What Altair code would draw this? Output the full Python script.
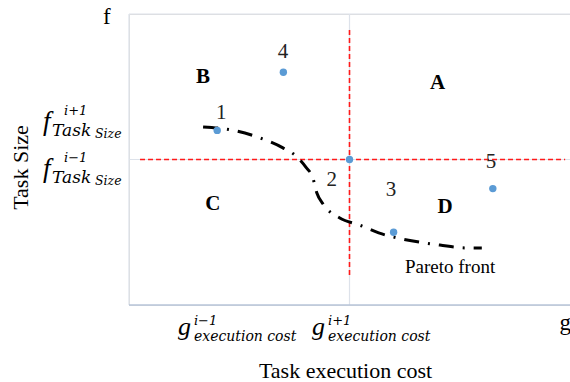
import altair as alt
import pandas as pd

# ---- data (axes run 0..10 in both directions) ----
point_ids = ["1", "2", "3", "4", "5"]
point_x = [2.0, 5.0, 6.0, 3.5, 8.25]
point_y = [6.0, 5.0, 2.5, 8.0, 4.0]
point_label_x = [2.09, 4.60, 5.94, 3.49, 8.21]
point_label_y = [6.60, 4.30, 3.95, 8.69, 4.91]

pareto_x = [1.68, 2.34, 2.97, 3.49, 3.81, 4.01, 4.17, 4.26, 4.40, 4.78, 5.22, 5.80, 6.10, 6.71, 7.05, 7.69, 8.00]
pareto_y = [6.12, 6.01, 5.74, 5.40, 5.09, 4.74, 4.36, 3.85, 3.47, 2.99, 2.75, 2.41, 2.30, 2.13, 2.06, 1.96, 1.96]

region_names = ["A", "B", "C", "D"]
region_x = [7.0, 1.68, 1.9, 7.17]
region_y = [7.63, 7.84, 3.47, 3.37]

threshold_x = 5.0
threshold_y = 5.0
vline_y = [1.03, 9.45]
hline_x = [0.25, 9.89]

ylab_sup = ["i+1", "i\u22121"]
ylab_y = [6.29, 4.67]
xlab_sup = ["i\u22121", "i+1"]
xlab_x = [1.11, 4.15]
xlab_y = -0.756

pareto_text = "Pareto front"
pareto_text_x = 7.28
pareto_text_y = 1.31

end_labels = ["f", "g"]
end_x = [-0.5, 9.89]
end_y = [9.9, -0.62]

# ---- scales ----
xs = alt.Scale(domain=[0, 10], nice=False, zero=False)
ys = alt.Scale(domain=[0, 10], nice=False, zero=False)
xaxis = alt.Axis(domain=False, ticks=False, labels=False, grid=False,
                 title="Task execution cost", titleFont="Liberation Serif",
                 titleFontSize=22, titleFontWeight="normal", titleColor="#000000",
                 titleX=216, titleY=65, titleAlign="center", titleBaseline="middle")
yaxis = alt.Axis(domain=False, ticks=False, labels=False, grid=False,
                 title="Task Size", titleFont="Liberation Serif",
                 titleFontSize=22, titleFontWeight="normal", titleColor="#000000",
                 titleX=-109, titleY=153, titleAngle=270, titleAlign="center",
                 titleBaseline="middle")


def X(f):
    return alt.X(f"{f}:Q", scale=xs, axis=xaxis)


def Y(f):
    return alt.Y(f"{f}:Q", scale=ys, axis=yaxis)


points = pd.DataFrame({"id": point_ids, "x": point_x, "y": point_y,
                       "lx": point_label_x, "ly": point_label_y})
pareto = pd.DataFrame({"x": pareto_x, "y": pareto_y, "o": list(range(len(pareto_x)))})
regions = pd.DataFrame({"t": region_names, "x": region_x, "y": region_y})
ylabs = pd.DataFrame({"sup": ylab_sup, "y": ylab_y, "x": [0.0, 0.0]})
xlabs = pd.DataFrame({"sup": xlab_sup, "x": xlab_x, "y": [xlab_y, xlab_y]})
ends = pd.DataFrame({"t": end_labels, "x": end_x, "y": end_y})

frame_light = pd.DataFrame({"x": [0, 0, threshold_x, 0], "x2": [10, 0, threshold_x, 10],
                            "y": [10, 0, 0, threshold_y], "y2": [10, 10, 10, threshold_y]})
frame_bottom = pd.DataFrame({"x": [0], "x2": [10], "y": [0], "y2": [0]})
red_lines = pd.DataFrame({"x": [threshold_x, hline_x[0]], "x2": [threshold_x, hline_x[1]],
                          "y": [vline_y[0], threshold_y], "y2": [vline_y[1], threshold_y]})

grid = alt.Chart(frame_light).mark_rule(color="#dde2ea", strokeWidth=1.2).encode(
    x=X("x"), x2="x2", y=Y("y"), y2="y2")
bottom = alt.Chart(frame_bottom).mark_rule(color="#b7c4d8", strokeWidth=1.5).encode(
    x=X("x"), x2="x2", y=Y("y"), y2="y2")
red = alt.Chart(red_lines).mark_rule(color="#ff1a1a", strokeWidth=1.6, strokeDash=[5, 3]).encode(
    x=X("x"), x2="x2", y=Y("y"), y2="y2")

front = alt.Chart(pareto).mark_line(color="#000000", strokeWidth=3, strokeDash=[15, 9, 2, 9],
                                    interpolate="monotone", strokeCap="butt").encode(
    x=X("x"), y=Y("y"), order="o:Q")

dots = alt.Chart(points).mark_circle(color="#5b9bd5", opacity=1, size=55).encode(
    x=X("x"), y=Y("y"))
nums = alt.Chart(points).mark_text(font="Liberation Serif", fontSize=21, color="#222222",
                                   baseline="middle", align="center").encode(
    x=X("lx"), y=Y("ly"), text="id:N")

letters = alt.Chart(regions).mark_text(font="Liberation Serif", fontSize=21, fontWeight="bold",
                                       color="#000000", baseline="middle", align="center").encode(
    x=X("x"), y=Y("y"), text="t:N")

ptext = alt.Chart(pd.DataFrame({"t": [pareto_text], "x": [pareto_text_x], "y": [pareto_text_y]})).mark_text(
    font="Liberation Serif", fontSize=19, color="#000000", baseline="middle", align="center").encode(
    x=X("x"), y=Y("y"), text="t:N")

endtext = alt.Chart(ends).mark_text(font="Liberation Serif", fontSize=23, color="#000000",
                                    baseline="middle", align="center").encode(
    x=X("x"), y=Y("y"), text="t:N")

# y-side math labels  f^{sup}_{Task_{Size}}
yf = alt.Chart(ylabs).mark_text(text="f", font="Liberation Serif", fontStyle="italic", fontSize=27,
                                align="left", baseline="middle", dx=-86, color="#000000").encode(
    x=X("x"), y=Y("y"))
ysup = alt.Chart(ylabs).mark_text(font="DejaVu Serif", fontStyle="italic", fontSize=13,
                                  align="left", baseline="middle", dx=-65, dy=-11, color="#000000").encode(
    x=X("x"), y=Y("y"), text="sup:N")
ytask = alt.Chart(ylabs).mark_text(text="Task", font="DejaVu Serif", fontStyle="italic", fontSize=17,
                                   align="left", baseline="middle", dx=-77, dy=9, color="#000000").encode(
    x=X("x"), y=Y("y"))
ysize = alt.Chart(ylabs).mark_text(text="Size", font="DejaVu Serif", fontStyle="italic", fontSize=12.5,
                                   align="left", baseline="middle", dx=-34, dy=12, color="#000000").encode(
    x=X("x"), y=Y("y"))

# x-side math labels  g^{sup}_{execution cost}
xg = alt.Chart(xlabs).mark_text(text="g", font="Liberation Serif", fontStyle="italic", fontSize=26,
                                align="left", baseline="middle", dx=0, color="#000000").encode(
    x=X("x"), y=Y("y"))
xsup = alt.Chart(xlabs).mark_text(font="DejaVu Serif", fontStyle="italic", fontSize=13,
                                  align="left", baseline="middle", dx=16, dy=-6, color="#000000").encode(
    x=X("x"), y=Y("y"), text="sup:N")
xsub = alt.Chart(xlabs).mark_text(text="execution cost", font="DejaVu Serif", fontStyle="italic",
                                  fontSize=14, align="left", baseline="middle", dx=16, dy=10,
                                  color="#000000").encode(
    x=X("x"), y=Y("y"))

chart = alt.layer(grid, bottom, red, front, dots, nums, letters, ptext, endtext,
                  yf, ysup, ytask, ysize, xg, xsup, xsub).properties(
    width=441, height=291,
    autosize=alt.AutoSizeParams(type="none"),
    padding={"left": 129, "top": 14, "right": 0, "bottom": 77},
).configure_view(stroke=None).configure(background="#ffffff")

chart.save("out.html", embed_options={"renderer": "svg", "actions": False})
